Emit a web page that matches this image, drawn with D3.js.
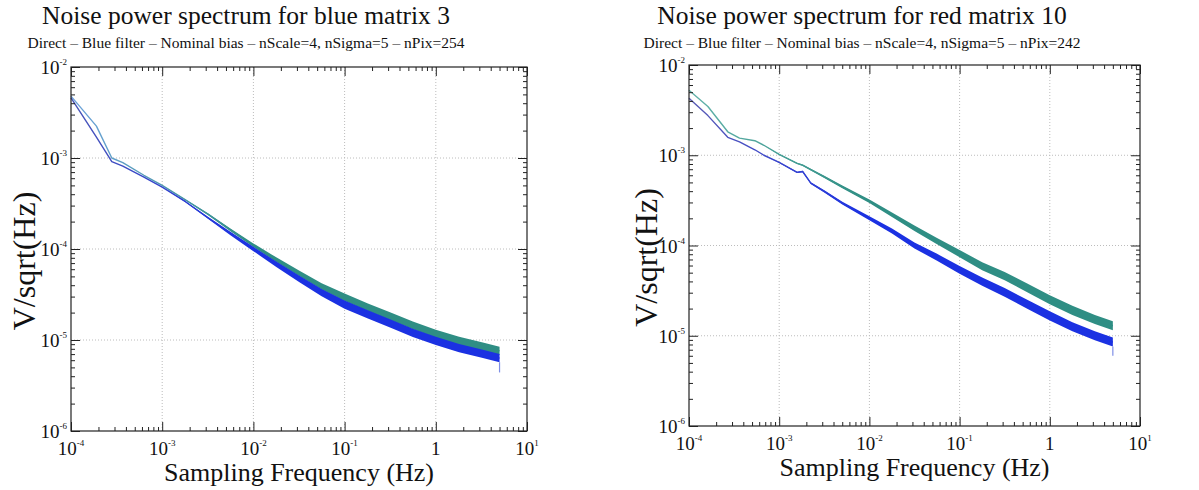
<!DOCTYPE html>
<html>
<head>
<meta charset="utf-8">
<script src="https://cdn.jsdelivr.net/npm/d3@7"></script>
<style>
body { margin: 0; background: #fff; }
text { font-family: "Liberation Serif", serif; fill: #111; }
</style>
</head>
<body>
<svg id="chart" width="1199" height="490"></svg>
<script>
// values (Hz, V/sqrt(Hz)); spread = half band width in decades
var leftFreq = [1e-4, 1.9e-4, 2.8e-4, 3.7e-4, 6.3e-4, 1e-3, 1.8e-3, 3.2e-3, 5.6e-3, 1e-2, 1.8e-2, 3.2e-2, 5.6e-2, 0.1, 0.18, 0.32, 0.56, 1, 1.8, 3.2, 5.0];
var leftTeal = [4.79e-3, 2.24e-3, 1.0e-3, 8.91e-4, 6.46e-4, 5.01e-4, 3.47e-4, 2.40e-4, 1.62e-4, 1.10e-4, 7.59e-5, 5.37e-5, 3.89e-5, 2.95e-5, 2.29e-5, 1.82e-5, 1.45e-5, 1.17e-5, 9.77e-6, 8.51e-6, 7.59e-6];
var leftBlue = [4.57e-3, 1.70e-3, 9.12e-4, 8.13e-4, 6.17e-4, 4.79e-4, 3.31e-4, 2.19e-4, 1.48e-4, 1.0e-4, 6.76e-5, 4.68e-5, 3.31e-5, 2.45e-5, 1.91e-5, 1.51e-5, 1.20e-5, 9.77e-6, 8.13e-6, 7.08e-6, 6.31e-6];
var leftTealSpread = [0, 0, 0, 0, 0, 0, 0.005, 0.01, 0.015, 0.02, 0.025, 0.03, 0.035, 0.04, 0.04, 0.042, 0.042, 0.044, 0.045, 0.045, 0.045];
var leftBlueSpread = [0, 0, 0, 0, 0, 0, 0.006, 0.012, 0.018, 0.024, 0.03, 0.035, 0.04, 0.045, 0.045, 0.045, 0.045, 0.045, 0.045, 0.045, 0.045];
var leftTail = [5.7e-6, 4.4e-6];

var rightFreq = [1e-4, 1.62e-4, 2.69e-4, 3.63e-4, 5.37e-4, 6.76e-4, 1e-3, 1.58e-3, 1.82e-3, 2.24e-3, 3.16e-3, 5.01e-3, 1e-2, 1.78e-2, 3.16e-2, 5.62e-2, 0.1, 0.178, 0.316, 0.562, 1, 1.78, 3.16, 5.0];
var rightTeal = [5.25e-3, 3.47e-3, 1.82e-3, 1.55e-3, 1.45e-3, 1.29e-3, 1.02e-3, 8.13e-4, 7.76e-4, 6.92e-4, 5.75e-4, 4.47e-4, 3.09e-4, 2.19e-4, 1.55e-4, 1.12e-4, 8.13e-5, 5.89e-5, 4.57e-5, 3.39e-5, 2.51e-5, 1.91e-5, 1.51e-5, 1.29e-5];
var rightBlue = [4.27e-3, 2.75e-3, 1.58e-3, 1.41e-3, 1.15e-3, 1.0e-3, 8.32e-4, 6.46e-4, 6.61e-4, 4.90e-4, 3.98e-4, 2.95e-4, 2.0e-4, 1.45e-4, 1.0e-4, 7.41e-5, 5.37e-5, 3.98e-5, 3.02e-5, 2.24e-5, 1.66e-5, 1.26e-5, 1.0e-5, 8.51e-6];
var rightTealSpread = [0, 0, 0, 0, 0, 0, 0.005, 0.008, 0.008, 0.01, 0.012, 0.015, 0.02, 0.025, 0.03, 0.035, 0.04, 0.044, 0.046, 0.048, 0.05, 0.05, 0.05, 0.05];
var rightBlueSpread = [0, 0, 0, 0, 0, 0, 0.005, 0.008, 0.008, 0.01, 0.012, 0.016, 0.022, 0.028, 0.033, 0.038, 0.042, 0.046, 0.048, 0.05, 0.05, 0.05, 0.05, 0.05];
var rightTail = [7.6e-6, 6.0e-6];

var xTicks = [1e-4, 1e-3, 1e-2, 1e-1, 1, 10];
var xTickLabels = [["10", "-4"], ["10", "-3"], ["10", "-2"], ["10", "-1"], ["1", ""], ["10", "1"]];
var yTicks = [1e-2, 1e-3, 1e-4, 1e-5, 1e-6];
var yTickLabels = [["10", "-2"], ["10", "-3"], ["10", "-4"], ["10", "-5"], ["10", "-6"]];

var svg = d3.select("#chart");
var defs = svg.append("defs");

function panel(o) {
    var x = d3.scaleLog().domain([1e-4, 10]).range([o.x0, o.x1]);
    var y = d3.scaleLog().domain([1e-6, 1e-2]).range([o.y1, o.y0]);
    var g = svg.append("g");

    var minorX = x.ticks().filter(d => xTicks.indexOf(d) < 0);
    var minorY = y.ticks().filter(d => yTicks.indexOf(d) < 0);

    // grid
    g.selectAll(".gx").data(xTicks.slice(1, -1)).enter().append("line")
        .attr("x1", d => x(d)).attr("x2", d => x(d))
        .attr("y1", o.y0).attr("y2", o.y1)
        .attr("stroke", "#bcbcbc").attr("stroke-dasharray", "1,2");
    g.selectAll(".gy").data(yTicks.slice(1, -1)).enter().append("line")
        .attr("y1", d => y(d)).attr("y2", d => y(d))
        .attr("x1", o.x0).attr("x2", o.x1)
        .attr("stroke", "#bcbcbc").attr("stroke-dasharray", "1,2");

    // series
    function series(vals, spread, light, dark, id) {
        var pts = o.freq.map((f, i) => ({f: f, v: vals[i], s: spread[i]}));
        var grad = defs.append("linearGradient").attr("id", id)
            .attr("gradientUnits", "userSpaceOnUse")
            .attr("x1", x(1e-4)).attr("x2", x(1e-2)).attr("y1", 0).attr("y2", 0);
        grad.append("stop").attr("offset", 0).attr("stop-color", light);
        grad.append("stop").attr("offset", 1).attr("stop-color", dark);
        g.append("path").datum(pts)
            .attr("d", d3.area().x(d => x(d.f))
                .y0(d => y(d.v * Math.pow(10, -d.s)))
                .y1(d => y(d.v * Math.pow(10, d.s))))
            .attr("fill", dark);
        g.append("path").datum(pts)
            .attr("d", d3.line().x(d => x(d.f)).y(d => y(d.v)))
            .attr("fill", "none").attr("stroke", "url(#" + id + ")")
            .attr("stroke-width", 1.4).attr("stroke-linejoin", "round");
    }
    series(o.teal, o.tealSpread, o.tealLight, "#2f8e84", o.id + "t");
    series(o.blue, o.blueSpread, o.blueLight, "#1b31e2", o.id + "b");
    var fEnd = o.freq[o.freq.length - 1];
    g.append("line")
        .attr("x1", x(fEnd)).attr("x2", x(fEnd))
        .attr("y1", y(o.tail[0])).attr("y2", y(o.tail[1]))
        .attr("stroke", "#7f8fe6").attr("stroke-width", 1.2);

    // frame + ticks on all sides
    function axis(a, ticks, size, tr) {
        g.append("g").attr("transform", tr)
            .call(a.tickValues(ticks).tickSize(size).tickFormat(""))
            .call(s => s.select(".domain").remove())
            .call(s => s.selectAll("line").attr("stroke", "#222"));
    }
    [[minorX, -4], [xTicks, -9]].forEach(function (t) {
        axis(d3.axisBottom(x), t[0], t[1], "translate(0," + o.y1 + ")");
        axis(d3.axisTop(x), t[0], t[1], "translate(0," + o.y0 + ")");
    });
    [[minorY, -4], [yTicks, -9]].forEach(function (t) {
        axis(d3.axisLeft(y), t[0], t[1], "translate(" + o.x0 + ",0)");
        axis(d3.axisRight(y), t[0], t[1], "translate(" + o.x1 + ",0)");
    });
    g.append("rect").attr("x", o.x0).attr("y", o.y0)
        .attr("width", o.x1 - o.x0).attr("height", o.y1 - o.y0)
        .attr("fill", "none").attr("stroke", "#222").attr("stroke-width", 1.2);

    // tick labels
    xTicks.forEach(function (d, i) {
        var t = g.append("text").attr("x", x(d)).attr("y", o.y1 + 24)
            .attr("text-anchor", "middle").attr("font-size", 19);
        t.append("tspan").text(xTickLabels[i][0]);
        t.append("tspan").attr("font-size", 9).attr("dy", -9).text(xTickLabels[i][1]);
    });
    yTicks.forEach(function (d, i) {
        var t = g.append("text").attr("x", o.x0 - 4).attr("y", y(d) + 7)
            .attr("text-anchor", "end").attr("font-size", 19);
        t.append("tspan").text(yTickLabels[i][0]);
        t.append("tspan").attr("font-size", 9).attr("dy", -9).text(yTickLabels[i][1]);
    });

    // titles and axis labels
    svg.append("text").attr("x", o.titleX).attr("y", 24).attr("text-anchor", "middle")
        .attr("font-size", 25.5).text(o.title);
    svg.append("text").attr("x", o.titleX).attr("y", 48).attr("text-anchor", "middle")
        .attr("font-size", 15.5).text(o.sub);
    svg.append("text").attr("x", (o.x0 + o.x1) / 2).attr("y", o.y1 + 50).attr("text-anchor", "middle")
        .attr("font-size", 26).text("Sampling Frequency (Hz)");
    svg.append("text").attr("transform", "translate(" + o.ylabX + "," + ((o.y0 + o.y1) / 2 + 12) + ") rotate(-90)")
        .attr("text-anchor", "middle").attr("font-size", 32).text("V/sqrt(Hz)");
}

panel({
    id: "L", x0: 71, x1: 527, y0: 67, y1: 431, titleX: 246, ylabX: 35,
    title: "Noise power spectrum for blue matrix 3",
    sub: "Direct – Blue filter – Nominal bias – nScale=4, nSigma=5 – nPix=254",
    freq: leftFreq, teal: leftTeal, blue: leftBlue,
    tealSpread: leftTealSpread, blueSpread: leftBlueSpread, tail: leftTail,
    tealLight: "#6ea3dc", blueLight: "#4a56b8"
});
panel({
    id: "R", x0: 689, x1: 1140, y0: 65, y1: 426, titleX: 862, ylabX: 657,
    title: "Noise power spectrum for red matrix 10",
    sub: "Direct – Blue filter – Nominal bias – nScale=4, nSigma=5 – nPix=242",
    freq: rightFreq, teal: rightTeal, blue: rightBlue,
    tealSpread: rightTealSpread, blueSpread: rightBlueSpread, tail: rightTail,
    tealLight: "#62b2aa", blueLight: "#5a5cb4"
});
</script>
</body>
</html>
